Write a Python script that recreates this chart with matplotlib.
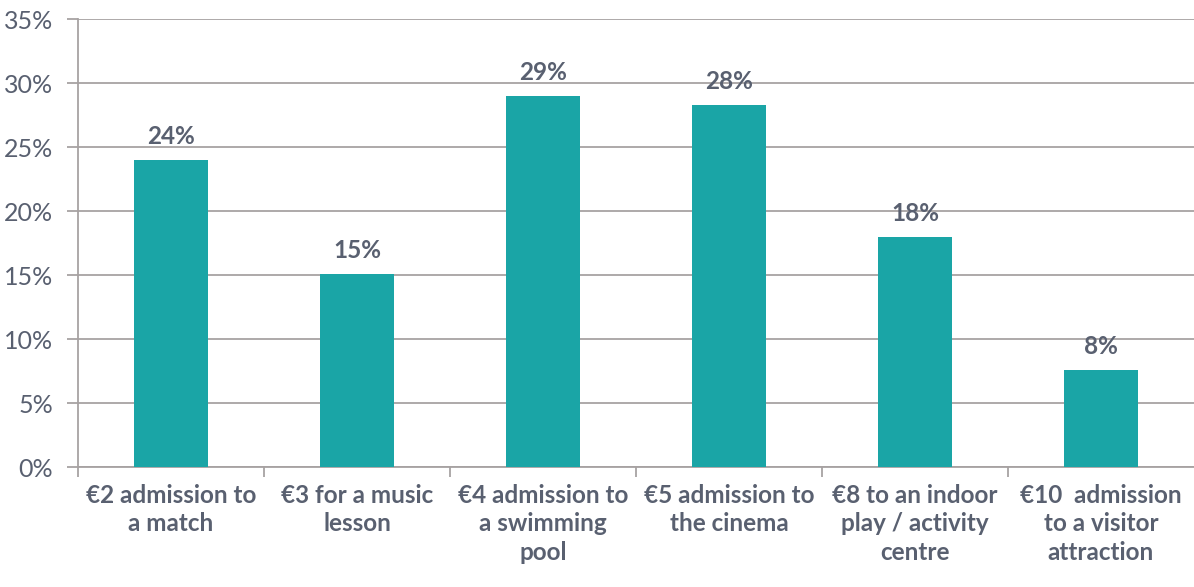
import numpy as np
import matplotlib.pyplot as plt
from matplotlib.ticker import FuncFormatter

categories = [
    "€2 admission to\na match",
    "€3 for a music\nlesson",
    "€4 admission to\na swimming\npool",
    "€5 admission to\nthe cinema",
    "€8 to an indoor\nplay / activity\ncentre",
    "€10  admission\nto a visitor\nattraction",
]
values = [24.0, 15.1, 29.0, 28.3, 18.0, 7.6]
labels = ["24%", "15%", "29%", "28%", "18%", "8%"]

TEAL = "#1AA5A6"
TEXT = "#596070"
GRID = "#A7A2A2"

plt.rcParams["font.family"] = ["Lato", "DejaVu Sans"]

fig = plt.figure(figsize=(11.94, 5.87), dpi=100)
ax = fig.add_axes([0.0653, 0.2044, 0.9347, 0.7632])

x = np.arange(len(categories))
ax.bar(x, values, width=0.4, color=TEAL, zorder=3)
for xi, v, lab in zip(x, values, labels):
    ax.text(xi, v + 0.9, lab, ha="center", va="bottom", fontsize=17.5,
            fontweight="bold", color=TEXT, zorder=4)

ax.set_xlim(-0.5, len(categories) - 0.5)
ax.set_ylim(0, 35)
ax.set_yticks(np.arange(0, 36, 5))
ax.yaxis.set_major_formatter(FuncFormatter(lambda v, _: f"{v:.0f}%"))
ax.grid(axis="y", color=GRID, linewidth=1.3, zorder=0)

# category labels centred on bars, ticks at boundaries
ax.set_xticks(x)
ax.set_xticklabels(categories, fontsize=17.5, fontweight="bold", color=TEXT,
                   linespacing=1.3)
ax.tick_params(axis="x", length=0, pad=12)
ax.set_xticks(np.arange(len(categories)) - 0.5, minor=True)
ax.tick_params(axis="x", which="minor", length=7, width=1.3, color=GRID)
ax.tick_params(axis="y", length=8, width=1.3, color=GRID, labelsize=18,
               labelcolor=TEXT, pad=10)

for s in ["top", "right"]:
    ax.spines[s].set_visible(False)
for s in ["left", "bottom"]:
    ax.spines[s].set_color(GRID)
    ax.spines[s].set_linewidth(1.3)

fig.savefig("out.png", dpi=100)
